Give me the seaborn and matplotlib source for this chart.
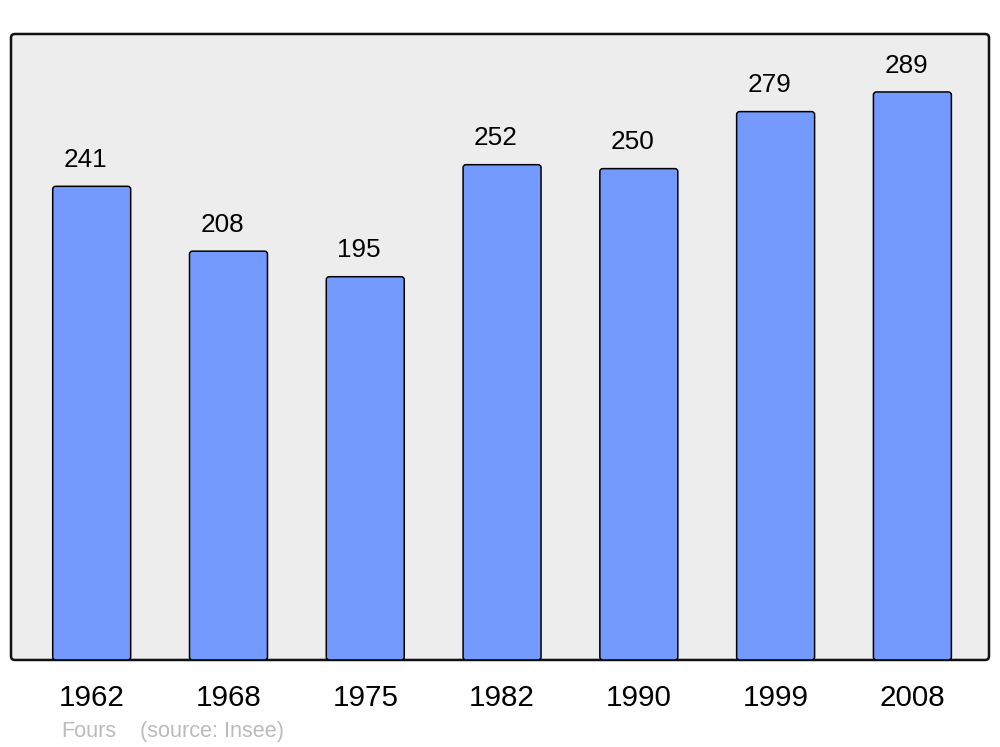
import matplotlib
matplotlib.use("Agg")
import matplotlib.pyplot as plt
from matplotlib.patches import FancyBboxPatch
import seaborn as sns
import pandas as pd

years  = ["1962", "1968", "1975", "1982", "1990", "1999", "2008"]
values = [241, 208, 195, 252, 250, 279, 289]
commune = "Fours"
source  = "(source: Insee)"

BAR_COLOR = "#7499FF"
BG_COLOR  = "#EDEDED"

sns.set_theme(style="white")
plt.rcParams["font.family"] = ["Liberation Sans", "DejaVu Sans"]

df = pd.DataFrame({"year": years, "pop": values})

fig = plt.figure(figsize=(10, 7.47), dpi=100)
ax = fig.add_axes([0.011, 0.1165, 0.978, 0.838])
ax.set_facecolor("none")

sns.barplot(data=df, x="year", y="pop", color=BAR_COLOR, width=0.57,
            saturation=1, edgecolor="black", linewidth=1.1, ax=ax)

ax.set_xlim(-0.59, 6.56)
ax.set_ylim(0, 318.5)

# frame with rounded corners
ax_w = 0.978 * 1000
ax_h = 0.838 * 747
frame = FancyBboxPatch((0, 0), 1, 1, boxstyle="round,pad=0,rounding_size=0.004",
                       mutation_aspect=ax_w / ax_h, transform=ax.transAxes,
                       facecolor=BG_COLOR, edgecolor="#111111", linewidth=1.8,
                       clip_on=False, zorder=0)
ax.add_patch(frame)
for s in ax.spines.values():
    s.set_visible(False)

# rounded bars
px_x = ax_w / 7.15
px_y = ax_h / 318.5
for p in list(ax.patches):
    if p is frame:
        continue
    x, y, w, h = p.get_x(), p.get_y(), p.get_width(), p.get_height()
    p.set_visible(False)
    ax.add_patch(FancyBboxPatch((x, y), w, h,
                                boxstyle="round,pad=0,rounding_size=%f" % (3 / px_x),
                                mutation_aspect=px_x / px_y,
                                facecolor=BAR_COLOR, edgecolor="black",
                                linewidth=1.1, zorder=2))
    # labels sit slightly left of the bar centre, as in the original
    ax.annotate(f"{int(round(h))}", (x + w / 2, h), xytext=(-4.5, 14),
                textcoords="offset points", ha="center", va="baseline",
                fontsize=18.8, color="black")

ax.set_xlabel("")
ax.set_ylabel("")
ax.set_yticks([])
ax.tick_params(axis="x", length=0, pad=17, labelsize=21.3, labelcolor="black")

fig.text(0.061, 10 / 747, commune, fontsize=15.6, color="#BBBBBB", va="baseline")
fig.text(0.140, 10 / 747, source, fontsize=15.6, color="#BBBBBB", va="baseline")

fig.savefig("out.png", dpi=100)
